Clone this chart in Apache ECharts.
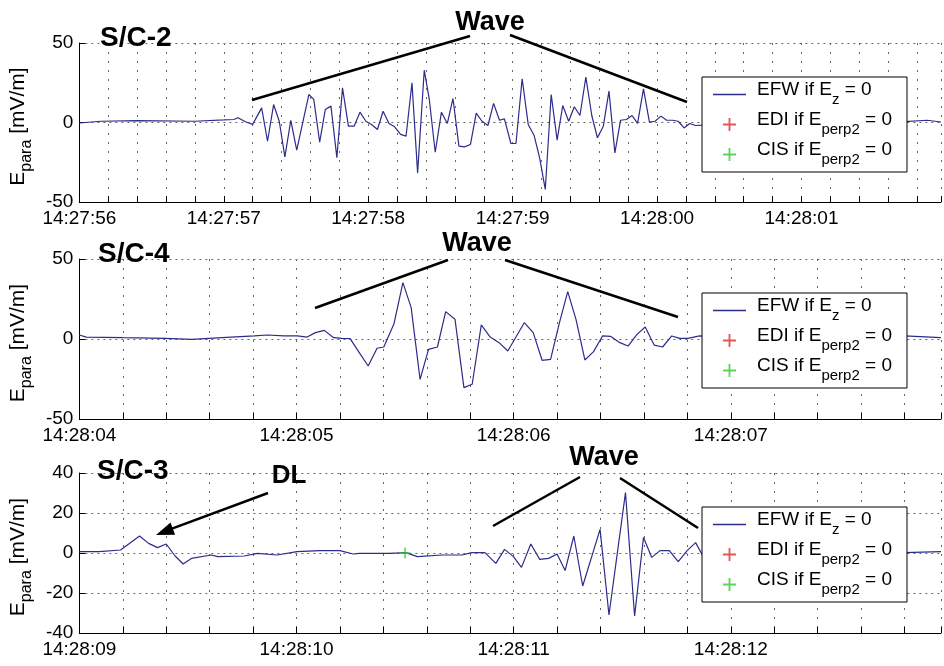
<!DOCTYPE html>
<html><head><meta charset="utf-8">
<script src="https://cdn.jsdelivr.net/npm/echarts@6/dist/echarts.min.js"></script>
<style>html,body{margin:0;padding:0;background:#fff}#c{width:944px;height:666px}</style>
</head><body><div id="c"></div>
<script>
// ---- tick labels (seconds from panel start -> clock time) ----
const panel1Labels = ['14:27:56','14:27:57','14:27:58','14:27:59','14:28:00','14:28:01'];
const panel2Labels = ['14:28:04','14:28:05','14:28:06','14:28:07'];
const panel3Labels = ['14:28:09','14:28:10','14:28:11','14:28:12'];
const panelTitles = ['S/C-2','S/C-4','S/C-3'];

// ---- legend entries ----
const legendMain = ['EFW if E','EDI if E','CIS if E'];
const legendSub  = ['z','perp2','perp2'];
const legendTail = ' = 0';
const legendNames = legendMain.map((m,i)=>m+legendSub[i]+legendTail);

// ---- S/C-2 EFW (t in s after 14:27:56, E_para in mV/m) ----
const p1T = [0,0.15,0.4,0.8,1.0,1.07,1.098,1.15,1.2,1.262,1.303,1.345,1.384,1.423,1.464,1.505,1.589,1.623,1.664,1.703,1.742,1.783,1.822,1.863,1.902,1.943,1.984,2.023,2.064,2.103,2.144,2.183,2.224,2.262,2.303,2.342,2.388,2.423,2.464,2.507,2.548,2.587,2.628,2.666,2.708,2.748,2.788,2.829,2.868,2.909,2.943,2.988,3.023,3.066,3.108,3.149,3.187,3.226,3.267,3.308,3.347,3.388,3.427,3.466,3.507,3.548,3.587,3.628,3.667,3.708,3.747,3.788,3.827,3.865,3.906,3.947,3.986,4.027,4.066,4.108,4.146,4.187,4.226,4.267,4.306,4.5,4.8,5.2,5.6,5.712,5.87,5.966];
const p1V = [-0.3,0.8,1.2,0.8,1.6,1.9,3.0,0.5,-1.2,9.2,-11.8,11.3,0.8,-21.6,1.4,-17.4,17.6,14.5,-12.4,8.2,10.3,-22.2,21.8,-2.3,-2.3,6.5,0.8,-1.3,-4.4,7.1,-0.6,-2.7,-7.5,-8.6,25,-31.7,32.9,14.5,-18.7,6.5,-0.6,15.1,-14.9,-15.3,-13.8,5.9,0.8,-1.9,12,1.4,2.3,-13.2,-13.2,27.5,-1.3,-8.2,-22.2,-42.1,17.6,-11.1,10.7,0.8,9.9,4.4,28.5,4.4,-9.6,-2.3,19.7,-19.1,1.4,1.9,4.4,-0.6,21.2,0.2,0.8,4.0,1.4,1.4,0.8,-3.4,-0.6,-1.9,-1.7,-0.5,0.5,0.3,0.2,0.5,1.4,0.3];
const p1EdiT = [], p1EdiV = [], p1CisT = [], p1CisV = [];

// ---- S/C-4 EFW (t in s after 14:28:04) ----
const p2T = [0,0.032,0.2,0.396,0.519,0.656,0.806,0.866,0.943,1.004,1.049,1.087,1.128,1.171,1.209,1.247,1.289,1.330,1.371,1.402,1.449,1.490,1.528,1.569,1.608,1.649,1.687,1.730,1.771,1.809,1.851,1.892,1.933,1.973,2.049,2.090,2.131,2.170,2.211,2.249,2.287,2.328,2.368,2.409,2.446,2.489,2.527,2.568,2.606,2.647,2.686,2.728,2.765,2.803,2.856,3.0,3.3,3.6,3.80,3.968];
const p2V = [2.5,1.2,0.8,0.4,-0.2,0.8,1.9,2.5,1.9,1.9,1.2,4.0,5.4,0.8,0.4,0.2,-8.5,-16.9,-5.8,-5.0,9.6,35.2,19.6,-25.2,-6.5,-5.0,17.1,12.3,-30.4,-28.3,8.8,1.2,-2.3,-7.5,10.2,4.0,-13.3,-12.7,10.2,29.6,12.3,-13.1,-7.9,1.9,1.7,-2.3,-4.4,2.9,7.5,-3.8,-5.0,1.9,0.4,0.4,1.9,1.0,0.8,1.2,1.9,0.8];
const p2EdiT = [], p2EdiV = [], p2CisT = [], p2CisV = [];

// ---- S/C-3 EFW (t in s after 14:28:09) ----
const p3T = [0,0.091,0.19,0.277,0.319,0.360,0.400,0.441,0.478,0.516,0.607,0.638,0.759,0.820,0.911,1.002,1.108,1.200,1.261,1.291,1.427,1.503,1.557,1.671,1.762,1.807,1.868,1.918,1.958,1.999,2.036,2.079,2.120,2.161,2.200,2.237,2.277,2.318,2.398,2.439,2.515,2.557,2.598,2.636,2.674,2.717,2.758,2.799,2.838,2.869,3.0,3.4,3.80,3.968];
const p3V = [0.7,0.7,1.5,8.5,4.8,2.7,4.5,-1.5,-5.5,-2.7,-1.0,-1.8,-1.5,-0.2,-1.0,0.7,1.2,1.2,-0.5,-0.2,-0.2,0.2,-1.8,-1.0,-1.0,0.2,0.2,-5.2,1.8,-1.8,-7.2,4.5,-3.2,-2.7,-0.5,-8.8,8.5,-16.5,11.8,-31.0,30.2,-31.5,7.8,-2.2,1.2,1.2,-4.3,1.2,5.2,-1.0,0.5,0.3,0.2,0.7];
const p3EdiT = [], p3EdiV = [];
const p3CisT = [1.5], p3CisV = [0];

// ---- axis extents ----
const xMax = [5.966, 3.968, 3.968];
const yMin = [-50, -50, -40], yMax = [50, 50, 40], yStep = [50, 50, 20];

const FONT = '"Liberation Sans", Arial, Helvetica, sans-serif';
const TRACE = '#2c2c8a';
const PLUS = 'path://M4.3,0H5.7V4.3H10V5.7H5.7V10H4.3V5.7H0V4.3H4.3Z';
const LINEICON = 'path://M0,0H33V1.5H0Z';
const pair = (t, v) => t.map((x, i) => [x, v[i]]);

const gridTops = [43, 259, 473], gridHeights = [159, 160, 160];
const legendTops = [77, 293, 507];
const xLabels = [panel1Labels, panel2Labels, panel3Labels];
const efw = [[p1T,p1V],[p2T,p2V],[p3T,p3V]];
const edi = [[p1EdiT,p1EdiV],[p2EdiT,p2EdiV],[p3EdiT,p3EdiV]];
const cis = [[p1CisT,p1CisV],[p2CisT,p2CisV],[p3CisT,p3CisV]];

const grid = [], xAxis = [], yAxis = [], legend = [], series = [];
for (let i = 0; i < 3; i++) {
  grid.push({left: 73, right: 0, top: gridTops[i], height: gridHeights[i]});
  const labels = xLabels[i];
  xAxis.push({
    type: 'value', gridIndex: i, min: 0, max: xMax[i], interval: 0.2,
    axisLine: {show: true, onZero: false, lineStyle: {color: '#000', width: 1}},
    axisTick: {show: true, inside: true, length: 6, lineStyle: {color: '#000'}},
    axisLabel: {show: true, margin: 7, color: '#000', fontSize: 19, fontFamily: FONT,
      showMinLabel: true, showMaxLabel: true,
      formatter: v => { const k = Math.round(v); return (Math.abs(v - k) < 1e-6 && labels[k]) ? labels[k] : ''; }},
    splitLine: {show: true, lineStyle: {color: '#666', type: [2, 7], width: 1}}
  });
  yAxis.push({
    type: 'value', gridIndex: i, min: yMin[i], max: yMax[i], interval: yStep[i],
    axisLine: {show: true, onZero: false, lineStyle: {color: '#000', width: 1}},
    axisTick: {show: true, inside: true, length: 6, lineStyle: {color: '#000'}},
    axisLabel: {margin: 6, color: '#000', fontSize: 19, fontFamily: FONT},
    splitLine: {show: true, lineStyle: {color: '#666', type: [2, 4], width: 1}},
    name: '{m|E}{s|para}{e| [mV/m]}', nameLocation: 'middle', nameRotate: 90, nameGap: 37,
    nameTextStyle: {rich: {
      m: {fontSize: 21, lineHeight: 20, padding: [0, 0, 6, 0], color: '#000', fontFamily: FONT},
      e: {fontSize: 21, lineHeight: 20, padding: [0, 8, 6, 0], color: '#000', fontFamily: FONT},
      s: {fontSize: 16, lineHeight: 16, padding: [10, 0, 0, 0], color: '#000', fontFamily: FONT}
    }}
  });
  legend.push({
    show: true, orient: 'vertical', left: 702, top: legendTops[i],
    padding: [0, 15, 0, 11], itemGap: -5, itemWidth: 33, itemHeight: 13,
    backgroundColor: '#fff', borderColor: '#000', borderWidth: 1, borderRadius: 0,
    selectedMode: false,
    data: [{name: legendNames[0], icon: LINEICON}, legendNames[1], legendNames[2]],
    formatter: n => { const k = legendNames.indexOf(n); return '{f|' + legendMain[k] + '}{s|' + legendSub[k] + '}{m|' + legendTail + '}'; },
    textStyle: {color: '#000', fontSize: 19, fontFamily: FONT, rich: {
      f: {fontSize: 19, lineHeight: 16, padding: [3, 0, 13, 6], color: '#000', fontFamily: FONT},
      m: {fontSize: 19, lineHeight: 16, padding: [3, 0, 13, 0], color: '#000', fontFamily: FONT},
      s: {fontSize: 15, lineHeight: 16, padding: [13, 0, 3, 0], color: '#000', fontFamily: FONT}
    }}
  });
  series.push({type: 'line', name: legendNames[0], xAxisIndex: i, yAxisIndex: i,
    data: pair(efw[i][0], efw[i][1]), symbol: 'none', showSymbol: false,
    lineStyle: {color: TRACE, width: 1.2}, itemStyle: {color: TRACE}, z: 3, silent: true});
  series.push({type: 'scatter', name: legendNames[1], xAxisIndex: i, yAxisIndex: i,
    data: pair(edi[i][0], edi[i][1]), symbol: PLUS, symbolSize: 11,
    itemStyle: {color: '#e02a2a'}, z: 4, silent: true});
  series.push({type: 'scatter', name: legendNames[2], xAxisIndex: i, yAxisIndex: i,
    data: pair(cis[i][0], cis[i][1]), symbol: PLUS, symbolSize: 11,
    itemStyle: {color: '#2ecc2e'}, z: 4, silent: true});
}

const txt = (text, x, y, size, align) => ({type: 'text', z: 100, silent: true,
  style: {text, x, y, fill: '#000', font: 'bold ' + size + 'px ' + FONT,
    textAlign: align, textVerticalAlign: 'middle', align: align, verticalAlign: 'middle'}});
const seg = (x1, y1, x2, y2) => ({type: 'line', z: 100, silent: true,
  shape: {x1, y1, x2, y2}, style: {stroke: '#000', lineWidth: 2.5}});

const graphic = [
  txt(panelTitles[0], 100, 38, 28, 'left'),
  txt(panelTitles[1], 98, 254, 28, 'left'),
  txt(panelTitles[2], 97, 471, 28, 'left'),
  txt('Wave', 490, 23, 27, 'center'),
  txt('Wave', 477, 244, 27, 'center'),
  txt('Wave', 604, 458, 27, 'center'),
  txt('DL', 289, 476, 26, 'center'),
  seg(252, 100, 470, 36), seg(510, 35, 687, 102),
  seg(315, 308, 448, 260), seg(505, 260, 678, 317),
  seg(493, 526, 580, 477), seg(620, 478, 698, 528),
  seg(268, 493, 172, 528.6),
  {type: 'polygon', z: 100, silent: true,
   shape: {points: [[156, 535], [175.1, 534.7], [170.5, 522.5]]}, style: {fill: '#000'}}
];

const chart = echarts.init(document.getElementById('c'), null, {renderer: 'canvas', width: 944, height: 666});
chart.setOption({
  animation: false, backgroundColor: '#fff',
  textStyle: {fontFamily: FONT},
  grid, xAxis, yAxis, legend, series, graphic
});
</script>
</body></html>
